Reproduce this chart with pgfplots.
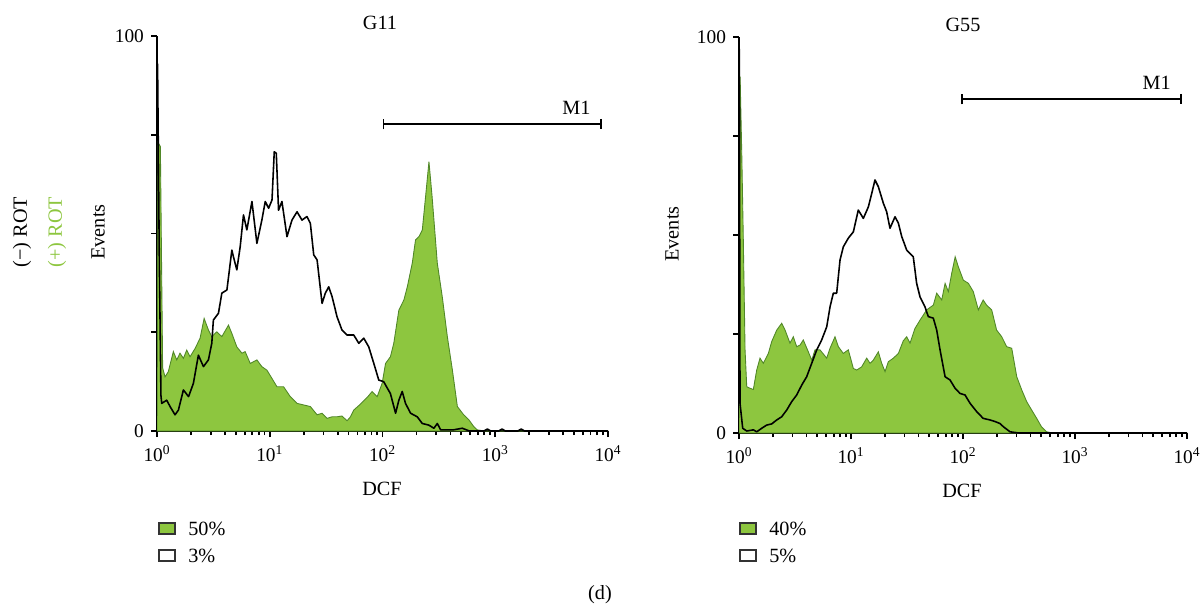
\documentclass[border=0pt]{standalone}
\usepackage{fontspec}
\setmainfont{Liberation Serif}
\usepackage{pgfplots}
\pgfplotsset{compat=1.18}
\usetikzlibrary{arrows.meta}

\definecolor{rotgreen}{RGB}{141,198,63}
\definecolor{rotedge}{RGB}{80,135,40}

\tikzset{
  gate/.style={line width=1.1pt, {Bar[width=6pt]}-{Bar[width=6pt]}},
  greenfill/.style={fill=rotgreen, draw=rotedge, line width=0.5pt},
  blackline/.style={black, line width=0.9pt, line join=round},
}

\pgfplotsset{
  flowhist/.style={
    scale only axis,
    anchor=south west,
    axis lines=left,
    axis line style={-, line width=1.1pt},
    xmin=0, xmax=4, ymin=0, ymax=100,
    xtick={0,1,2,3,4},
    xticklabels={10\textsuperscript{0},10\textsuperscript{1},10\textsuperscript{2},10\textsuperscript{3},10\textsuperscript{4}},
    minor xtick={0.301,0.477,0.602,0.699,0.778,0.845,0.903,0.954,
                 1.301,1.477,1.602,1.699,1.778,1.845,1.903,1.954,
                 2.301,2.477,2.602,2.699,2.778,2.845,2.903,2.954,
                 3.301,3.477,3.602,3.699,3.778,3.845,3.903,3.954},
    ytick={0,100}, yticklabels={0,100},
    extra y ticks={25,50,75}, extra y tick labels={},
    tick align=outside,
    major tick length=0.12cm,
    minor tick length=0.08cm,
    every tick/.style={black, line width=1pt},
    ticklabel style={font=\fontsize{11}{12}\selectfont},
    xticklabel style={yshift=-1pt},
  },
}

\begin{document}
\begin{tikzpicture}
\fontsize{11.5}{13}\selectfont

% ---------- G11 ----------
\begin{axis}[flowhist, width=9.02cm, height=7.9cm, at={(3.14cm,3.52cm)}]
\addplot[greenfill] coordinates {
(0,0)(0.01,73)(0.03,72)(0.05,16)(0.071,13.7)(0.1,15.0)(0.145,20.1)(0.175,18.0)
(0.204,19.7)(0.234,18.4)(0.264,20.5)(0.293,18.8)(0.338,20.9)(0.382,23.5)(0.418,28.5)
(0.456,25.6)(0.486,23.9)(0.53,25.1)(0.575,23.9)(0.634,26.8)(0.664,24.7)(0.708,21.3)
(0.753,19.7)(0.782,20.1)(0.827,17.1)(0.886,18.0)(0.93,16.3)(0.975,15.4)(1.02,13.3)
(1.064,11.2)(1.123,11.2)(1.182,8.7)(1.242,7.0)(1.3,6.6)(1.36,6.2)(1.42,4.1)(1.464,4.5)
(1.508,3.2)(1.553,3.6)(1.597,3.6)(1.64,3.8)(1.686,2.6)(1.716,3.6)(1.745,5.3)(1.804,6.8)
(1.864,8.5)(1.908,10.0)(1.953,8.7)(1.997,12.1)(2.027,17.1)(2.07,18.8)(2.1,22.2)
(2.145,30.6)(2.19,33.2)(2.22,36.5)(2.264,42.5)(2.293,48.4)(2.323,49.2)(2.353,50.9)
(2.382,59.3)(2.412,68.2)(2.44,59.3)(2.486,42.5)(2.53,34.0)(2.575,23.9)(2.62,15.4)
(2.664,6.2)(2.72,4.1)(2.767,2.8)(2.81,1.1)(2.84,0.3)(2.9,0)(4,0)
} \closedcycle;
\addplot[blackline] coordinates {
(0.005,93)(0.02,45)(0.035,9)(0.042,7.0)(0.086,7.8)(0.116,6.2)(0.16,4.1)(0.19,5.3)
(0.234,10.4)(0.28,8.7)(0.323,12.1)(0.367,19.2)(0.412,16.3)(0.456,18.0)(0.486,22.2)
(0.5,28.1)(0.545,29.8)(0.575,34.9)(0.62,35.7)(0.664,45.8)(0.678,44.1)(0.708,40.8)
(0.738,46.7)(0.767,54.7)(0.797,50.9)(0.842,58.1)(0.886,47.5)(0.93,53.4)(0.96,58.1)
(0.99,56.4)(1.02,58.5)(1.04,70.7)(1.058,70.3)(1.078,55.9)(1.108,58.1)(1.153,49.2)
(1.197,53.4)(1.242,55.5)(1.286,53.4)(1.33,54.3)(1.36,52.6)(1.39,44.6)(1.42,43.3)
(1.464,32.3)(1.493,34.9)(1.523,36.5)(1.553,34.0)(1.597,28.9)(1.64,25.6)(1.686,24.3)
(1.745,24.3)(1.79,22.2)(1.834,23.5)(1.878,21.3)(1.923,17.1)(1.967,12.9)(2.01,12.5)
(2.07,9.5)(2.116,4.5)(2.145,7.8)(2.175,10.0)(2.204,7.0)(2.249,4.5)(2.308,3.6)
(2.353,1.9)(2.41,1.5)(2.456,0.7)(2.486,1.9)(2.516,0.3)(2.63,0.3)(2.708,0.7)(2.77,0)
(2.9,0)(2.93,0.5)(2.96,0)(3.03,0)(3.06,0.5)(3.09,0)(3.2,0)(3.23,0.5)(3.26,0)(4,0)
};
\draw[gate] (axis cs:2,77.7) -- (axis cs:3.943,77.7);
\node at (axis cs:3.72,81.9) {M1};
\end{axis}

% ---------- G55 ----------
\begin{axis}[flowhist, width=8.96cm, height=7.92cm, at={(14.78cm,3.48cm)}]
\addplot[greenfill] coordinates {
(0,0)(0.01,90)(0.025,70)(0.038,49.6)(0.054,21.0)(0.069,11.7)(0.098,11.3)(0.128,11.0)
(0.158,15.9)(0.1875,18.9)(0.217,17.6)(0.262,20.1)(0.292,23.1)(0.337,26.0)(0.381,27.7)
(0.411,26.0)(0.455,22.7)(0.485,24.3)(0.515,21.8)(0.545,22.2)(0.574,23.5)(0.619,20.5)
(0.649,18.4)(0.679,21.0)(0.723,21.0)(0.783,18.9)(0.8125,21.4)(0.857,24.3)(0.887,21.8)
(0.931,20.1)(0.976,21.0)(1.021,16.3)(1.051,15.9)(1.095,16.7)(1.14,18.9)(1.17,17.6)
(1.199,18.4)(1.244,20.5)(1.274,17.6)(1.304,15.5)(1.333,18.0)(1.378,18.9)(1.423,20.1)
(1.467,23.3)(1.497,24.3)(1.527,22.7)(1.571,26.4)(1.616,28.5)(1.676,31.1)(1.735,32.3)
(1.765,35.3)(1.81,33.6)(1.84,37.8)(1.869,35.7)(1.899,40.3)(1.93,44.5)(1.958,42.0)
(2.003,38.6)(2.048,37.8)(2.092,35.7)(2.137,31.1)(2.18,33.6)(2.21,32.3)(2.256,31.1)
(2.3,26.0)(2.346,24.3)(2.39,21.8)(2.435,21.4)(2.48,14.2)(2.524,10.9)(2.569,7.9)
(2.613,5.8)(2.658,3.7)(2.7,1.6)(2.747,0.3)(2.8,0)(4,0)
} \closedcycle;
\addplot[blackline] coordinates {
(0.003,97)(0.009,7.5)(0.033,1.2)(0.069,0.5)(0.128,0.8)(0.158,0.3)(0.203,1.2)(0.247,2.0)
(0.292,2.3)(0.337,3.3)(0.381,4.1)(0.426,5.8)(0.47,7.9)(0.515,9.6)(0.56,12.1)(0.604,14.2)
(0.649,17.6)(0.694,21.0)(0.738,23.5)(0.783,26.8)(0.813,31.9)(0.842,35.3)(0.872,35.3)
(0.902,43.7)(0.931,47.0)(0.976,49.2)(1.021,50.8)(1.065,56.3)(1.11,54.2)(1.155,57.1)
(1.185,60.5)(1.214,63.9)(1.244,62.2)(1.289,58.0)(1.318,55.9)(1.348,51.7)(1.393,54.6)
(1.423,53.0)(1.453,49.6)(1.497,46.2)(1.556,44.5)(1.586,37.8)(1.616,34.4)(1.66,31.9)
(1.69,29.4)(1.735,29.0)(1.765,26.0)(1.795,21.0)(1.84,14.2)(1.884,13.4)(1.929,11.3)
(1.973,10.0)(2.018,9.6)(2.063,7.5)(2.122,5.4)(2.18,3.7)(2.24,3.3)(2.286,2.9)(2.33,2.4)
(2.36,1.6)(2.42,0.3)(2.5,0)(4,0)
};
\draw[gate] (axis cs:1.98,84.3) -- (axis cs:3.955,84.3);
\node at (axis cs:3.73,88.4) {M1};
\end{axis}

% ---------- text around the panels ----------
\node at (7.6,11.68) {G11};
\node at (19.26,11.64) {G55};
\node[rotate=90] at (0.44,7.5) {(−) ROT};
\node[rotate=90, text=rotgreen] at (1.14,7.5) {(+) ROT};
\node[rotate=90] at (1.96,7.5) {Events};
\node[rotate=90] at (13.44,7.46) {Events};
\node at (7.64,2.36) {DCF};
\node at (19.24,2.32) {DCF};

% legends
\draw[fill=rotgreen, draw=black!80, line width=0.6pt] (3.18,1.46) rectangle (3.50,1.68);
\draw[fill=white, draw=black!80, line width=0.6pt] (3.18,0.92) rectangle (3.50,1.14);
\node[anchor=west, inner sep=0pt] at (3.76,1.57) {50\%};
\node[anchor=west, inner sep=0pt] at (3.76,1.03) {3\%};
\draw[fill=rotgreen, draw=black!80, line width=0.6pt] (14.80,1.46) rectangle (15.12,1.68);
\draw[fill=white, draw=black!80, line width=0.6pt] (14.80,0.92) rectangle (15.12,1.14);
\node[anchor=west, inner sep=0pt] at (15.38,1.57) {40\%};
\node[anchor=west, inner sep=0pt] at (15.38,1.03) {5\%};

\node at (12,0.24) {(d)};

\pgfresetboundingbox
\path[use as bounding box] (0,0) rectangle (24,12.14);
\end{tikzpicture}
\end{document}
